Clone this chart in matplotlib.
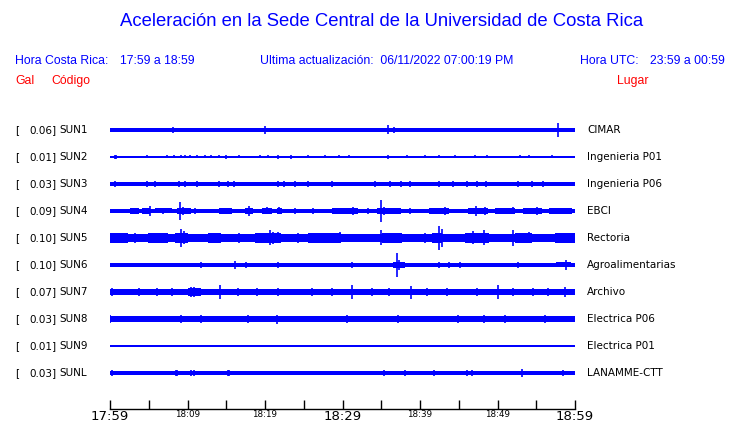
import matplotlib
matplotlib.use("Agg")
import matplotlib.pyplot as plt

# --- datos ---------------------------------------------------------------
codigos = ["SUN1", "SUN2", "SUN3", "SUN4", "SUN5", "SUN6", "SUN7", "SUN8", "SUN9", "SUNL"]
gal = [0.06, 0.01, 0.03, 0.09, 0.10, 0.10, 0.07, 0.03, 0.01, 0.03]
lugares = ["CIMAR", "Ingenieria P01", "Ingenieria P06", "EBCI", "Rectoria",
           "Agroalimentarias", "Archivo", "Electrica P06", "Electrica P01", "LANAMME-CTT"]

# amplitud de fondo de cada traza (media altura, unidades relativas)
fondo = [1.9, 0.6, 2.2, 2.2, 4.2, 1.6, 2.9, 3.0, 1.2, 1.8]

# rafagas: (minuto inicio, minuto fin, media altura)
rafagas = [
    [],
    [],
    [],
    [(2.6, 3.7, 2.6), (4.1, 5.2, 2.8), (5.8, 8.0, 2.5), (8.6, 10.5, 2.8), (14.0, 15.7, 2.6),
     (17.4, 18.5, 2.8), (19.6, 20.9, 3.0), (21.5, 22.2, 2.8), (28.6, 32.0, 2.6),
     (34.4, 37.6, 2.8), (41.1, 43.7, 2.8), (46.2, 48.8, 3.0), (49.7, 52.3, 2.6),
     (53.3, 55.7, 2.8), (56.6, 59.6, 2.6)],
    [(0.0, 2.3, 4.8), (4.9, 7.5, 4.8), (8.4, 10.1, 5.3), (12.6, 14.3, 4.8), (18.7, 22.1, 5.0),
     (25.5, 29.8, 4.6), (35.1, 37.7, 4.8), (41.5, 42.8, 5.3), (45.8, 48.9, 5.0),
     (52.3, 54.5, 4.8), (57.4, 60.0, 4.8)],
    [(2.0, 2.6, 2.3), (5.5, 6.2, 2.3), (9.0, 10.0, 2.3), (12.0, 13.0, 2.3), (18.5, 19.5, 2.3),
     (25.0, 26.0, 2.3), (28.0, 29.0, 2.3), (36.5, 38.0, 2.8), (40.5, 41.5, 2.3),
     (44.0, 45.0, 2.3), (48.5, 49.5, 2.3), (53.0, 54.0, 2.3), (57.5, 59.5, 2.5)],
    [(0.0, 1.3, 3.4), (1.7, 3.4, 3.3), (3.8, 6.4, 3.3), (7.2, 9.4, 3.3), (10.1, 11.8, 3.6),
     (12.6, 16.0, 3.4), (16.5, 19.9, 3.2), (20.8, 23.8, 3.4), (25.1, 29.8, 3.3),
     (30.0, 38.6, 3.2), (39.5, 54.1, 3.4), (54.5, 60.0, 3.3)],
    [],
    [],
    [],
]

# picos (minuto desde 17:59, media altura)
picos = [
    [(8.1, 2.6), (9.4, 2.4), (20.0, 3.7), (31.1, 2.4), (31.5, 2.4), (35.9, 4.5),
     (36.7, 2.8), (40.9, 2.4), (43.0, 2.4), (57.8, 7.0)],
    [(0.6, 2.0), (0.8, 2.0), (4.8, 1.5), (7.3, 1.5), (8.2, 1.5), (9.2, 1.5), (9.7, 1.5),
     (10.3, 1.5), (11.2, 1.5), (12.3, 1.5), (13.0, 1.5), (14.0, 1.5), (15.0, 1.8),
     (16.6, 1.5), (19.4, 1.5), (20.4, 1.5), (21.7, 1.8), (23.4, 1.8), (25.6, 1.5),
     (27.7, 1.5), (29.5, 1.5), (30.8, 1.5), (35.9, 1.8), (38.3, 1.5), (40.6, 1.5),
     (42.4, 1.5), (44.5, 1.5), (47.1, 1.5), (48.6, 1.5), (52.9, 1.5), (54.0, 1.5),
     (57.0, 1.5)],
    [(0.6, 2.8), (4.8, 2.6), (5.8, 2.6), (8.9, 2.8), (9.7, 2.6), (11.2, 2.6), (14.1, 2.6),
     (15.2, 2.6), (16.0, 2.6), (21.7, 2.8), (22.4, 2.6), (23.9, 2.6), (25.6, 2.6),
     (28.6, 2.6), (34.2, 2.6), (36.1, 2.8), (37.6, 2.6), (38.7, 2.6), (42.4, 3.3),
     (44.3, 2.6), (46.0, 2.8), (47.3, 2.6), (48.5, 2.8), (52.7, 2.6), (54.4, 2.6),
     (55.9, 2.6)],
    [(0.6, 2.2), (3.1, 2.8), (4.6, 3.0), (5.1, 5.3), (6.9, 2.6), (9.0, 9.0), (9.4, 4.0),
     (9.8, 3.2), (11.0, 2.8), (14.9, 2.8), (17.9, 5.0), (20.2, 3.5), (21.8, 3.5),
     (23.9, 2.6), (26.2, 2.8), (29.7, 2.8), (31.3, 4.0), (33.3, 2.6), (35.0, 11.0),
     (35.4, 4.0), (36.8, 2.8), (38.7, 2.8), (41.8, 3.2), (43.2, 4.0), (47.2, 5.0),
     (48.4, 4.0), (51.0, 2.6), (52.0, 3.5), (55.1, 4.0), (57.0, 2.6), (58.3, 3.2)],
    [(1.7, 5.3), (3.2, 5.3), (5.8, 5.3), (7.3, 5.3), (9.2, 9.0), (9.5, 6.5), (14.0, 5.3),
     (16.6, 5.3), (20.6, 7.5), (21.0, 6.0), (21.7, 5.5), (24.3, 5.3), (29.7, 5.5),
     (35.0, 7.5), (37.2, 5.3), (40.6, 5.3), (42.4, 12.0), (42.8, 9.0), (46.9, 6.5),
     (48.2, 7.5), (52.0, 8.0), (54.0, 5.5), (57.5, 5.3)],
    [(0.2, 2.3), (2.2, 2.3), (3.4, 2.3), (4.5, 2.3), (5.8, 2.3), (7.1, 2.3), (9.2, 2.3),
     (11.8, 3.0), (13.5, 2.3), (16.1, 4.0), (17.6, 3.0), (18.9, 2.3), (20.4, 2.3),
     (21.7, 3.0), (25.2, 2.3), (26.9, 2.3), (28.6, 2.3), (29.9, 2.3), (31.2, 3.0),
     (32.9, 2.3), (34.2, 2.3), (37.0, 12.0), (37.3, 5.0), (39.4, 2.3), (41.1, 2.3),
     (42.4, 2.6), (43.7, 3.0), (45.2, 3.0), (48.8, 2.3), (50.1, 2.3), (52.7, 3.0),
     (54.4, 2.3), (56.1, 2.3), (57.8, 2.3), (58.9, 4.5)],
    [(0.2, 3.8), (3.8, 3.8), (6.0, 3.8), (8.0, 3.8), (10.5, 4.5), (10.9, 4.5), (14.2, 7.0),
     (16.5, 3.8), (19.0, 3.8), (21.7, 4.2), (26.0, 3.8), (28.6, 4.2), (31.2, 7.0),
     (33.8, 3.8), (36.0, 3.8), (38.9, 6.5), (40.9, 4.2), (43.5, 3.8), (47.3, 4.2),
     (50.1, 7.0), (52.0, 3.8), (54.6, 4.2), (56.5, 3.8), (58.7, 5.0)],
    [(0.0, 3.8), (9.2, 3.8), (11.8, 3.8), (17.8, 4.0), (21.6, 4.5), (30.6, 4.0),
     (37.2, 3.8), (44.9, 3.8), (48.2, 3.8), (51.0, 3.8), (56.1, 3.8)],
    [],
    [(0.3, 2.5), (7.0, 2.2), (8.5, 3.3), (8.7, 2.5), (10.5, 2.5), (10.8, 2.5), (11.9, 2.2),
     (15.2, 2.5), (15.4, 2.5), (16.6, 2.2), (17.2, 2.2), (18.7, 2.2), (26.0, 2.2),
     (27.1, 2.2), (28.2, 2.2), (29.7, 2.2), (34.0, 2.2), (35.4, 2.5), (36.3, 2.2),
     (38.1, 2.5), (40.4, 2.2), (41.8, 3.3), (44.3, 2.2), (46.0, 2.5), (46.7, 2.5),
     (51.0, 2.2), (53.2, 3.8), (54.4, 2.2), (55.3, 2.2), (58.5, 2.5)],
]

tick_pos = [0, 5, 10, 15, 20, 25, 30, 35, 40, 45, 50, 55, 60]
etiquetas = {0: "17:59", 10: "18:09", 20: "18:19", 30: "18:29",
             40: "18:39", 50: "18:49", 60: "18:59"}
grandes = [0, 30, 60]

# --- figura --------------------------------------------------------------
W, H = 740, 423
fig = plt.figure(figsize=(W / 100, H / 100), dpi=100)
azul = (0, 0, 1)
rojo = (1, 0, 0)
sep = 27.0  # separacion entre trazas (px)

# ejes: x de 110 a 575 px, y de 117 a 409 px
x0, x1, ytop, ybot = 110, 575, 117, 409
ax = fig.add_axes([x0 / W, 1 - ybot / H, (x1 - x0) / W, (ybot - ytop) / H])
ax.set_xlim(0, 60)
ax.set_ylim((ybot - 130) / sep, (ytop - 130) / sep)

for i, cod in enumerate(codigos):
    b = fondo[i] / sep
    ax.fill_between([0, 60], i - b, i + b, color=azul, lw=0)
    for t0, t1, a in rafagas[i]:
        ax.fill_between([t0, t1], i - a / sep, i + a / sep, color=azul, lw=0)
    for m, a in picos[i]:
        ax.vlines(m, i - a / sep, i + a / sep, color=azul, lw=1.2)

for s in ["top", "left", "right"]:
    ax.spines[s].set_visible(False)
ax.spines["bottom"].set_linewidth(1.0)
ax.set_yticks([])
ax.set_xticks(tick_pos)
ax.set_xticklabels([])
ax.tick_params(axis="x", direction="in", length=6.5, width=1.0)
trans = ax.get_xaxis_transform()
for t in tick_pos:
    if t not in etiquetas:
        continue
    if t in grandes:
        ax.text(t, -7 / (ybot - ytop), etiquetas[t], transform=trans, fontsize=9.5,
                ha="center", va="center", family="DejaVu Sans")
    else:
        ax.text(t, -5 / (ybot - ytop), etiquetas[t], transform=trans, fontsize=6.3,
                ha="center", va="center", family="DejaVu Sans")

# textos
def px(x, y):
    return x / W, 1 - y / H

fuente = "DejaVu Sans"
for i, cod in enumerate(codigos):
    yy = 130 + sep * i
    fig.text(*px(15, yy), "[", fontsize=7.5, family=fuente, va="center")
    fig.text(*px(56, yy), "%.2f]" % gal[i], fontsize=7.5, family=fuente, va="center", ha="right")
    fig.text(*px(59, yy), cod, fontsize=7.5, family=fuente, va="center")
    fig.text(*px(587, yy), lugares[i], fontsize=7.5, family=fuente, va="center")

cab = "Liberation Sans"
fig.text(*px(382, 22), "Aceleración en la Sede Central de la Universidad de Costa Rica",
         fontsize=13.3, family=cab, color=azul, ha="center", va="center")
fig.text(*px(15, 61), "Hora Costa Rica:", fontsize=8.8, family=cab,
         color=azul, va="center")
fig.text(*px(120, 61), "17:59 a 18:59", fontsize=8.8, family=cab,
         color=azul, va="center")
fig.text(*px(260, 61), "Ultima actualización:  06/11/2022 07:00:19 PM", fontsize=8.8,
         family=cab, color=azul, va="center")
fig.text(*px(580, 61), "Hora UTC:", fontsize=8.8, family=cab,
         color=azul, va="center")
fig.text(*px(725, 61), "23:59 a 00:59", fontsize=8.8, family=cab,
         color=azul, va="center", ha="right")
fig.text(*px(15, 81), "Gal", fontsize=8.8, family=cab, color=rojo, va="center")
fig.text(*px(51, 81), "Código", fontsize=8.8, family=cab, color=rojo, va="center")
fig.text(*px(648, 81), "Lugar", fontsize=8.8, family=cab, color=rojo, va="center", ha="right")

fig.savefig("out.png", dpi=100)
